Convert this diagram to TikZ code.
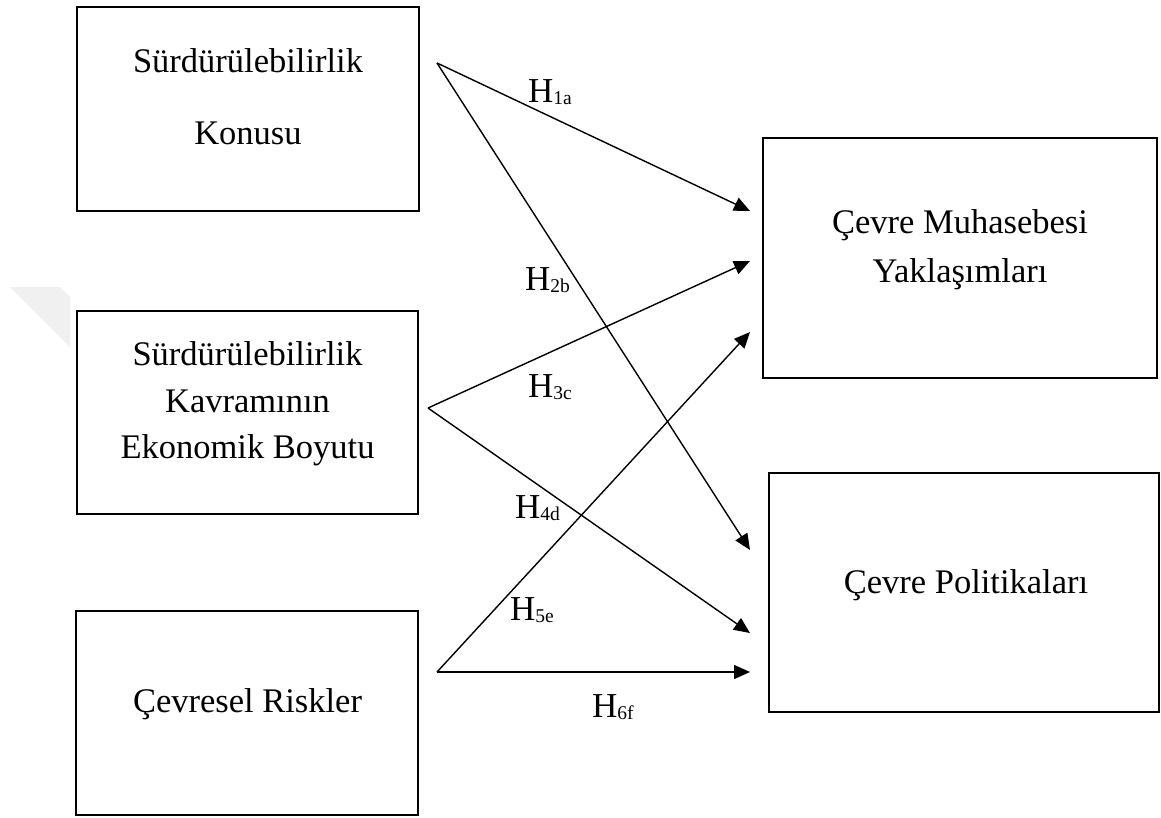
\documentclass[tikz,border=0pt]{standalone}
\usepackage{fontspec}
\setmainfont{Liberation Serif}
\usetikzlibrary{arrows.meta}
% hypothesis label: H with a lowered, smaller index
\newcommand{\hyp}[1]{H\raisebox{-2.5pt}{\fontsize{19.5}{20}\selectfont #1}}

\begin{document}
\begin{tikzpicture}[x=1pt,y=-1pt,
  box/.style={draw=black, line width=2.6pt, inner sep=0pt},
  boxtext/.style={anchor=base, inner sep=0pt, font=\fontsize{34.5}{40}\selectfont},
  hlabel/.style={anchor=base west, inner sep=0pt, font=\fontsize{35}{40}\selectfont},
  link/.style={line width=1.4pt, -{Triangle[length=16pt,width=14pt]}}]

\useasboundingbox (0,0) rectangle (1161,817);

% faint mark at the left margin
\fill[gray!12] (10,287) -- (60,287) -- (70,297) -- (70,347) -- cycle;

% left-hand boxes
\node[box, minimum width=342pt, minimum height=204pt] (b1) at (248,109) {};
\node[box, minimum width=341pt, minimum height=203pt] (b2) at (247.5,412.5) {};
\node[box, minimum width=342pt, minimum height=204pt] (b3) at (247,713) {};

% right-hand boxes
\node[box, minimum width=394pt, minimum height=240pt] (r1) at (960,258) {};
\node[box, minimum width=390pt, minimum height=239pt] (r2) at (964,592.5) {};

% box texts
\node[boxtext] (t1a) at (248,72) {Sürdürülebilirlik};
\node[boxtext] (t1b) at (248,144) {Konusu};
\node[boxtext] (t2a) at (247.5,365) {Sürdürülebilirlik};
\node[boxtext] (t2b) at (247.5,412) {Kavramının};
\node[boxtext] (t2c) at (247.5,458) {Ekonomik Boyutu};
\node[boxtext] (t3a) at (247.5,712) {Çevresel Riskler};
\node[boxtext] (u1a) at (960,233) {Çevre Muhasebesi};
\node[boxtext] (u1b) at (960,282) {Yaklaşımları};
\node[boxtext] (u2a) at (966,593) {Çevre Politikaları};

% start and end points of the hypothesis arrows
\coordinate (s1) at (437,63);
\coordinate (s2) at (428,408);
\coordinate (s3) at (437,672);
\coordinate (e1) at (750,211);
\coordinate (e2) at (750,261);
\coordinate (e3) at (750,332);
\coordinate (e4) at (750,550);
\coordinate (e5) at (750,633);
\coordinate (e6) at (750,672);

\draw[link] (s1) -- (e1);
\draw[link] (s1) -- (e4);
\draw[link] (s2) -- (e2);
\draw[link] (s2) -- (e5);
\draw[link] (s3) -- (e3);
\draw[link] (s3) -- (e6);

% hypothesis labels
\node[hlabel] (h1) at (528,102) {\hyp{1a}};
\node[hlabel] (h2) at (525,290) {\hyp{2b}};
\node[hlabel] (h3) at (528,397) {\hyp{3c}};
\node[hlabel] (h4) at (515,518) {\hyp{4d}};
\node[hlabel] (h5) at (510,620) {\hyp{5e}};
\node[hlabel] (h6) at (592,717) {\hyp{6f}};
\end{tikzpicture}
\end{document}
